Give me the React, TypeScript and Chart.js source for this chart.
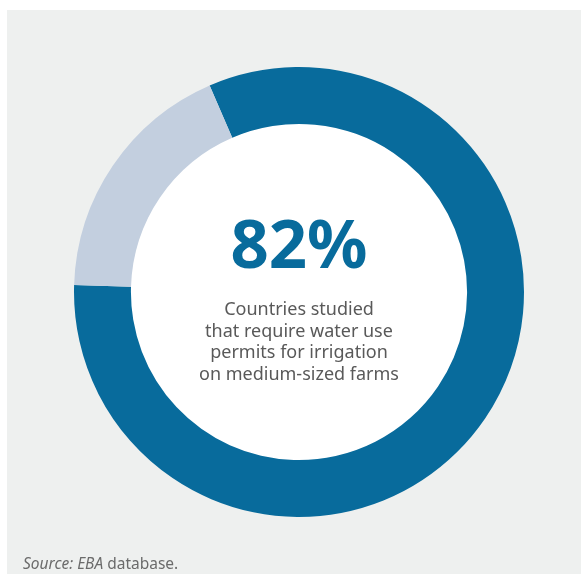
import React, { useEffect, useRef } from "react";
import { Chart, registerables } from "chart.js";

Chart.register(...registerables);

const categories = ["Require permits", "Do not require permits"];
const values = [82, 18];
const headline = "82%";
const captionLines = [
  "Countries studied",
  "that require water use",
  "permits for irrigation",
  "on medium-sized farms",
];

const DARK = "#086b9c";
const LIGHT = "#c3cfdf";
const PANEL = "#eef0ef";
const TEXT = "#595959";

const centerPlugin = {
  id: "centerPlugin",
  beforeDatasetsDraw(chart: any) {
    const meta = chart.getDatasetMeta(0);
    const arc = meta.data[0];
    if (!arc) return;
    const { x, y, innerRadius } = arc.getProps(["x", "y", "innerRadius"], true);
    const ctx = chart.ctx;
    ctx.save();
    ctx.beginPath();
    ctx.arc(x, y, innerRadius + 0.5, 0, Math.PI * 2);
    ctx.fillStyle = "#ffffff";
    ctx.fill();
    ctx.restore();
  },
  afterDatasetsDraw(chart: any) {
    const meta = chart.getDatasetMeta(0);
    const arc = meta.data[0];
    if (!arc) return;
    const { x, y } = arc.getProps(["x", "y"], true);
    const ctx = chart.ctx;
    ctx.save();
    ctx.textAlign = "center";
    ctx.textBaseline = "alphabetic";
    ctx.fillStyle = DARK;
    ctx.font = "bold 67px 'Noto Sans'";
    ctx.fillText(headline, x, y - 24);
    ctx.fillStyle = TEXT;
    ctx.font = "18px 'Noto Sans'";
    captionLines.forEach((line, i) => {
      ctx.fillText(line, x, y + 23 + i * 21.5);
    });
    ctx.restore();
  },
};

export default function App() {
  const ref = useRef<HTMLCanvasElement | null>(null);
  useEffect(() => {
    if (!ref.current) return;
    const chart = new Chart(ref.current, {
      type: "doughnut",
      data: {
        labels: categories,
        datasets: [
          {
            data: values,
            backgroundColor: [DARK, LIGHT],
            borderWidth: 0,
            hoverOffset: 0,
            offset: 0,
          },
        ],
      },
      options: {
        animation: false,
        responsive: false,
        maintainAspectRatio: false,
        cutout: "74.7%",
        rotation: -23.4,
        layout: { padding: { left: 67, top: 57, right: 57, bottom: 57 } },
        plugins: {
          legend: { display: false },
          tooltip: { enabled: false },
        },
        events: [],
      },
      plugins: [centerPlugin],
    });
    return () => chart.destroy();
  }, []);

  return (
    <div
      style={{
        position: "absolute",
        left: 0,
        top: 0,
        width: 581,
        height: 574,
        background: "#ffffff",
        overflow: "hidden",
      }}
    >
      <div
        style={{
          position: "absolute",
          left: 7,
          top: 10,
          width: 574,
          height: 564,
          background: PANEL,
        }}
      >
        <canvas ref={ref} width={574} height={564} style={{ display: "block" }} />
        <div
          style={{
            position: "absolute",
            left: 16,
            top: 543,
            fontFamily: "'Noto Sans'",
            fontSize: 15.5,
            color: "#6b6b6b",
            lineHeight: "20px",
            whiteSpace: "nowrap",
          }}
        >
          <i>Source: EBA</i> database.
        </div>
      </div>
    </div>
  );
}
